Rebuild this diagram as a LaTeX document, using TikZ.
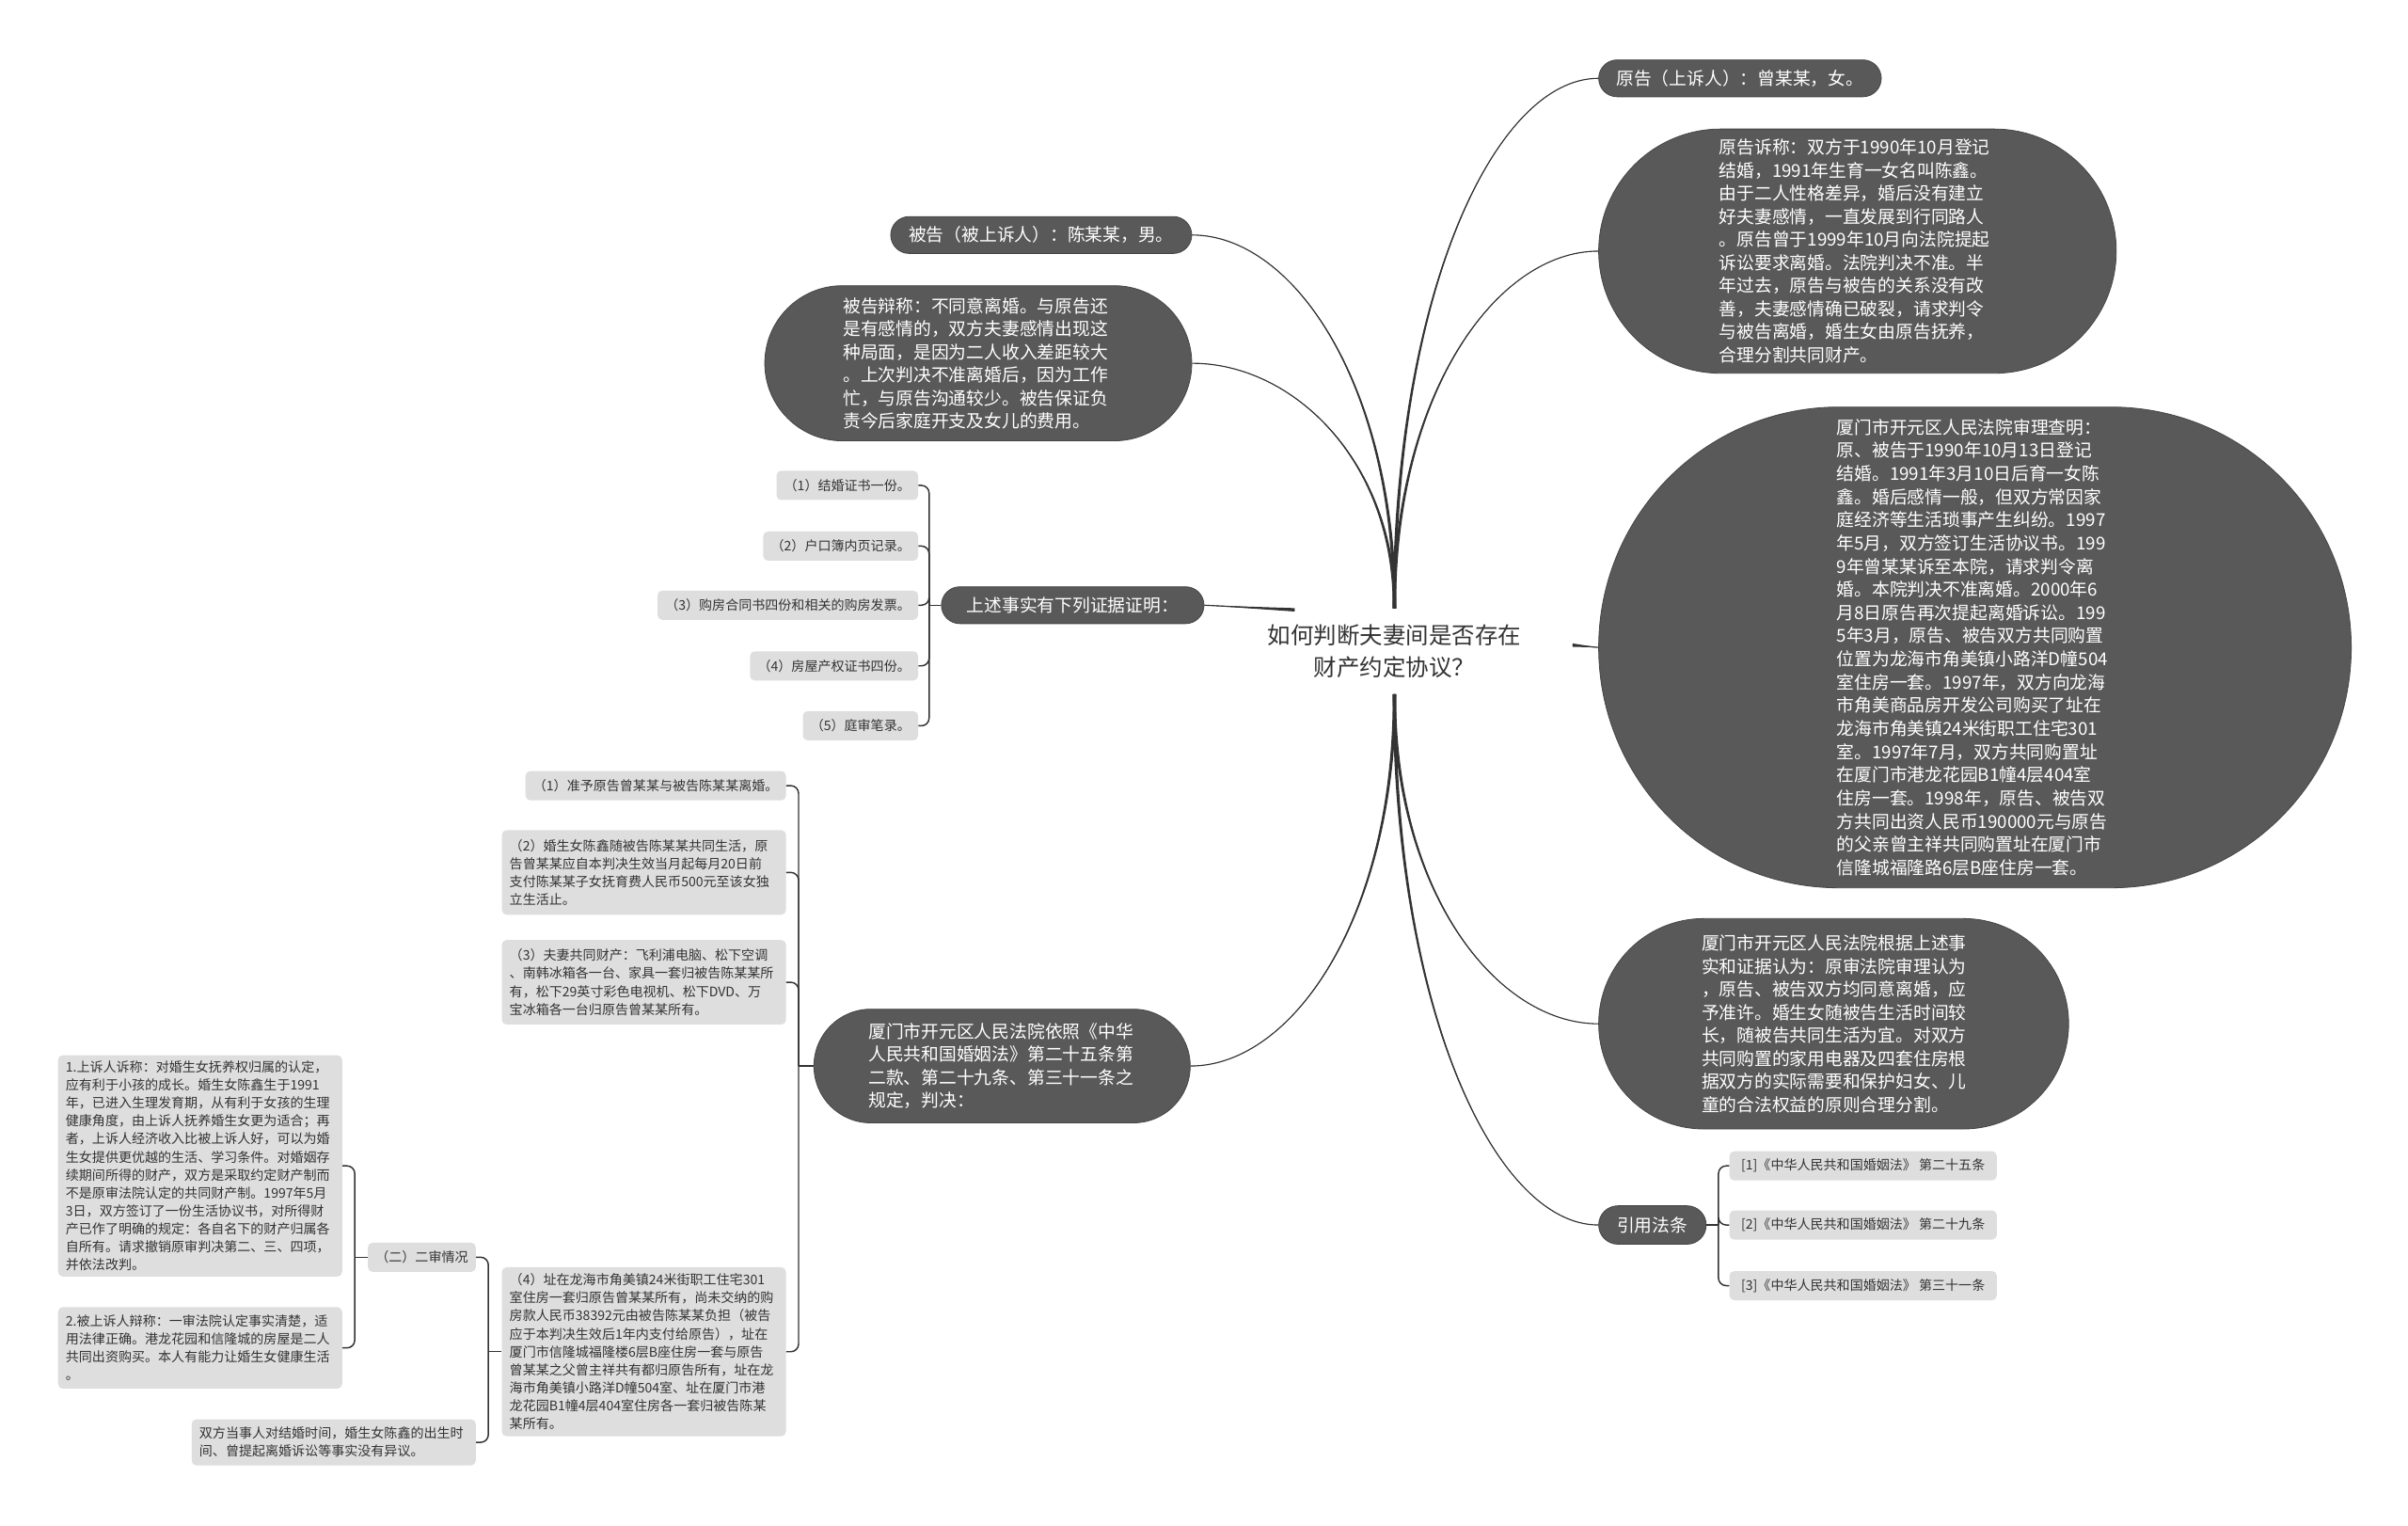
\documentclass[tikz,border=0pt]{standalone}
\usepackage{fontspec}
\setmainfont{Noto Sans CJK SC}
\usetikzlibrary{calc}
\definecolor{dk}{RGB}{89,89,89}
\definecolor{dkline}{RGB}{70,70,70}
\definecolor{lt}{RGB}{222,222,222}
\definecolor{ln}{RGB}{51,51,51}
% tapered main branch: #1 start coordinate (at root), #2 target anchor
\newcommand{\mybranch}[2]{%
  \fill[ln] ($(#1)+(-1.1,0)$) .. controls ($(#1)!0.6!(#1|-#2)+(-0.7,0)$) and ($(#1|-#2)!0.5!(#2)$) .. (#2)
    .. controls ($(#1|-#2)!0.5!(#2)$) and ($(#1)!0.6!(#1|-#2)+(0.7,0)$) .. ($(#1)+(1.1,0)$) -- cycle;
  \draw[conn] (#1) to[branch] (#2);
}
\newcommand{\myhbranch}[2]{%
  \fill[ln] (#2) -- ($(#1)+(0,-1.1)$) -- ($(#1)+(0,1.1)$) -- cycle;
  \draw[conn] (#1) -- (#2);
}
\begin{document}
\begin{tikzpicture}[x=1pt,y=-1pt,
  dark/.style={fill=dk, draw=dkline, line width=0.5pt, text=white, font=\fontsize{11.5}{15}\selectfont, inner sep=0pt, align=left},
  light/.style={fill=lt, draw=none, rounded corners=3pt, text=ln, font=\fontsize{8.6}{11.7}\selectfont, inner xsep=5pt, inner ysep=0pt, align=left, minimum height=19pt},
  conn/.style={draw=ln, line width=0.7pt},
  sub/.style={draw=ln, line width=0.9pt, rounded corners=5pt},
  branch/.style={to path={.. controls ($(\tikztostart)!0.6!(\tikztostart|-\tikztotarget)$) and ($(\tikztostart|-\tikztotarget)!0.5!(\tikztotarget)$) .. (\tikztotarget)}}
]
\fill[white] (0,0) rectangle (1568,993);
\useasboundingbox (0,0) rectangle (1568,993);

% root
\node[font=\fontsize{15}{20.5}\selectfont, text=ln, align=center, inner sep=0pt] (root) at (908,424) {如何判断夫妻间是否存在\\财产约定协议？};
\coordinate (rt) at (908,396);
\coordinate (rb) at (908,452);
\coordinate (rl) at (843,397);
\coordinate (rr) at (1024,420);

% right side
\node[dark, align=center, minimum width=184pt, minimum height=24pt, rounded corners=12pt] (yg) at (1133,51) {原告（上诉人）：曾某某，女。};
\node[dark, text width=180pt, minimum width=337pt, minimum height=159pt, rounded corners=79.5pt] (ygs) at (1209.5,163.5) {原告诉称：双方于1990年10月登记\\结婚，1991年生育一女名叫陈鑫。\\由于二人性格差异，婚后没有建立\\好夫妻感情，一直发展到行同路人\\。原告曾于1999年10月向法院提起\\诉讼要求离婚。法院判决不准。半\\年过去，原告与被告的关系没有改\\善，夫妻感情确已破裂，请求判令\\与被告离婚，婚生女由原告抚养，\\合理分割共同财产。};
\node[dark, text width=180pt, minimum width=490pt, minimum height=313pt, rounded corners=156.5pt, font=\fontsize{11.5}{15.1}\selectfont] (sl) at (1286,421.5) {厦门市开元区人民法院审理查明：\\原、被告于1990年10月13日登记\\结婚。1991年3月10日后育一女陈\\鑫。婚后感情一般，但双方常因家\\庭经济等生活琐事产生纠纷。1997\\年5月，双方签订生活协议书。199\\9年曾某某诉至本院，请求判令离\\婚。本院判决不准离婚。2000年6\\月8日原告再次提起离婚诉讼。199\\5年3月，原告、被告双方共同购置\\位置为龙海市角美镇小路洋D幢504\\室住房一套。1997年，双方向龙海\\市角美商品房开发公司购买了址在\\龙海市角美镇24米街职工住宅301\\室。1997年7月，双方共同购置址\\在厦门市港龙花园B1幢4层404室\\住房一套。1998年，原告、被告双\\方共同出资人民币190000元与原告\\的父亲曾主祥共同购置址在厦门市\\信隆城福隆路6层B座住房一套。};
\node[dark, text width=172pt, minimum width=306pt, minimum height=137pt, rounded corners=68.5pt] (gj) at (1194,666.5) {厦门市开元区人民法院根据上述事\\实和证据认为：原审法院审理认为\\，原告、被告双方均同意离婚，应\\予准许。婚生女随被告生活时间较\\长，随被告共同生活为宜。对双方\\共同购置的家用电器及四套住房根\\据双方的实际需要和保护妇女、儿\\童的合法权益的原则合理分割。};
\node[dark, align=center, minimum width=70pt, minimum height=25pt, rounded corners=12.5pt] (yy) at (1076,797.5) {引用法条};

\node[light, anchor=west, minimum width=174pt] (c1) at (1126,759) {[1]《中华人民共和国婚姻法》 第二十五条};
\node[light, anchor=west, minimum width=174pt] (c2) at (1126,797.5) {[2]《中华人民共和国婚姻法》 第二十九条};
\node[light, anchor=west, minimum width=174pt] (c3) at (1126,837) {[3]《中华人民共和国婚姻法》 第三十一条};

% left side
\node[dark, align=center, minimum width=196pt, minimum height=24pt, rounded corners=12pt] (bg) at (678,153) {被告（被上诉人）：陈某某，男。};
\node[dark, text width=176pt, minimum width=278pt, minimum height=101pt, rounded corners=50.5pt] (bgb) at (637,236.5) {被告辩称：不同意离婚。与原告还\\是有感情的，双方夫妻感情出现这\\种局面，是因为二人收入差距较大\\。上次判决不准离婚后，因为工作\\忙，与原告沟通较少。被告保证负\\责今后家庭开支及女儿的费用。};
\node[dark, align=center, minimum width=171pt, minimum height=24pt, rounded corners=12pt] (ss) at (698.5,394) {上述事实有下列证据证明：};

\node[light, anchor=east] (e1) at (598,316) {（1）结婚证书一份。};
\node[light, anchor=east] (e2) at (598,355.5) {（2）户口簿内页记录。};
\node[light, anchor=east] (e3) at (598,394) {（3）购房合同书四份和相关的购房发票。};
\node[light, anchor=east] (e4) at (598,433.5) {（4）房屋产权证书四份。};
\node[light, anchor=east] (e5) at (598,472.5) {（5）庭审笔录。};

\node[dark, text width=174pt, minimum width=245pt, minimum height=74pt, rounded corners=37pt] (yz) at (652.5,694) {厦门市开元区人民法院依照《中华\\人民共和国婚姻法》第二十五条第\\二款、第二十九条、第三十一条之\\规定，判决：};

\node[light, anchor=east] (j1) at (512,511.5) {（1）准予原告曾某某与被告陈某某离婚。};
\node[light, anchor=east, text width=175pt, minimum height=55pt] (j2) at (512,568) {（2）婚生女陈鑫随被告陈某某共同生活，原\\告曾某某应自本判决生效当月起每月20日前\\支付陈某某子女抚育费人民币500元至该女独\\立生活止。};
\node[light, anchor=east, text width=175pt, minimum height=55pt] (j3) at (512,639.5) {（3）夫妻共同财产：飞利浦电脑、松下空调\\、南韩冰箱各一台、家具一套归被告陈某某所\\有，松下29英寸彩色电视机、松下DVD、万\\宝冰箱各一台归原告曾某某所有。};
\node[light, anchor=east, text width=175pt, minimum height=110pt] (j4) at (512,880) {（4）址在龙海市角美镇24米街职工住宅301\\室住房一套归原告曾某某所有，尚未交纳的购\\房款人民币38392元由被告陈某某负担（被告\\应于本判决生效后1年内支付给原告），址在\\厦门市信隆城福隆楼6层B座住房一套与原告\\曾某某之父曾主祥共有都归原告所有，址在龙\\海市角美镇小路洋D幢504室、址在厦门市港\\龙花园B1幢4层404室住房各一套归被告陈某\\某所有。};

\node[light, anchor=east, minimum width=70pt, align=center] (er) at (310,818.5) {（二）二审情况};
\node[light, anchor=east, text width=175pt, minimum height=30pt] (sf) at (310,939) {双方当事人对结婚时间，婚生女陈鑫的出生时\\间、曾提起离婚诉讼等事实没有异议。};
\node[light, anchor=east, text width=175pt, minimum height=144pt] (a1) at (223,759) {1.上诉人诉称：对婚生女抚养权归属的认定，\\应有利于小孩的成长。婚生女陈鑫生于1991\\年，已进入生理发育期，从有利于女孩的生理\\健康角度，由上诉人抚养婚生女更为适合；再\\者，上诉人经济收入比被上诉人好，可以为婚\\生女提供更优越的生活、学习条件。对婚姻存\\续期间所得的财产，双方是采取约定财产制而\\不是原审法院认定的共同财产制。1997年5月\\3日，双方签订了一份生活协议书，对所得财\\产已作了明确的规定：各自名下的财产归属各\\自所有。请求撤销原审判决第二、三、四项，\\并依法改判。};
\node[light, anchor=east, text width=175pt, minimum height=53pt] (a2) at (223,877.5) {2.被上诉人辩称：一审法院认定事实清楚，适\\用法律正确。港龙花园和信隆城的房屋是二人\\共同出资购买。本人有能力让婚生女健康生活\\。};

% main branches (tapered)
\mybranch{rt}{yg.west}
\mybranch{rt}{ygs.west}
\mybranch{rt}{bg.east}
\mybranch{rt}{bgb.east}
\mybranch{rb}{gj.west}
\mybranch{rb}{yy.west}
\mybranch{rb}{yz.east}
\myhbranch{rl}{ss.east}
\myhbranch{rr}{sl.west}

% brackets
\coordinate (s1) at (605,394);
\draw[sub] (ss.west) -- (s1);
\foreach \c in {e1,e2,e3,e4,e5} \draw[sub] (s1) |- (\c.east);
\coordinate (s2) at (520,694);
\draw[sub] (yz.west) -- (s2);
\foreach \c in {j1,j2,j3,j4} \draw[sub] (s2) |- (\c.east);
\coordinate (s3) at (318,880);
\draw[sub] (j4.west) -- (s3);
\foreach \c in {er,sf} \draw[sub] (s3) |- (\c.east);
\coordinate (s4) at (231,818.5);
\draw[sub] (er.west) -- (s4);
\foreach \c in {a1,a2} \draw[sub] (s4) |- (\c.east);
\coordinate (s5) at (1119,797.5);
\draw[sub] (yy.east) -- (s5);
\foreach \c in {c1,c2,c3} \draw[sub] (s5) |- (\c.west);
\end{tikzpicture}
\end{document}
